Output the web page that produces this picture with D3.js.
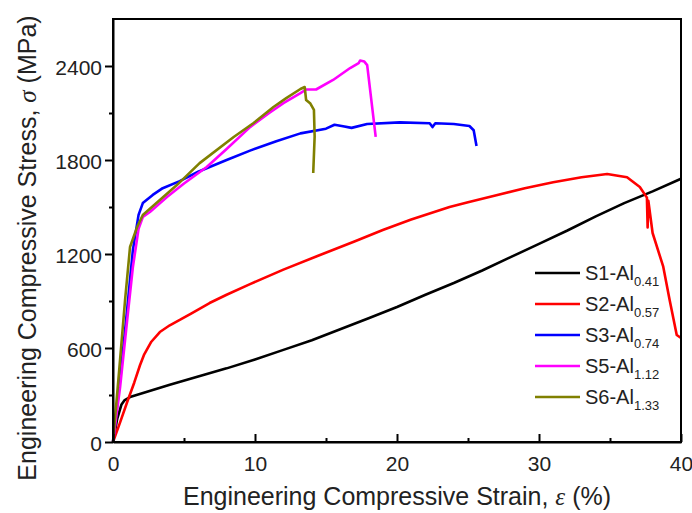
<!DOCTYPE html>
<html>
<head>
<meta charset="utf-8">
<script src="https://cdn.jsdelivr.net/npm/d3@7"></script>
<style>
  body { margin: 0; background: #fff; }
  svg text { font-family: "Liberation Sans", Arial, sans-serif; fill: #222; }
</style>
</head>
<body>
<div id="chart"></div>
<script>
// strain (%) , stress (MPa)
var s1 = [[0,0],[0.3,150],[0.6,240],[0.8,265],[1.2,287],[2,310],[4,365],[6,418],[8,470],[10,527],
          [12,588],[14,650],[16,720],[18,790],[20,862],[22,940],[24,1015],[26,1095],[28,1180],
          [30,1265],[32,1350],[34,1440],[36,1525],[38,1600],[40,1680]];
var s2 = [[0,0],[0.5,125],[1,255],[1.5,380],[1.9,490],[2.2,560],[2.7,640],[3.3,702],[4,745],[4.7,779],
          [5.5,820],[6.8,887],[8,940],[9.65,1008],[12,1100],[14.4,1187],[17,1280],[19,1353],[21,1420],
          [23.7,1500],[25,1530],[27,1575],[29,1620],[31,1658],[33,1690],[34.8,1711],[36.2,1690],
          [37.1,1628],[37.6,1560],[37.65,1370],[37.7,1540],[38,1334],[38.75,1119],[39.2,906],
          [39.7,683],[40,664]];
var s3 = [[0,0],[0.5,400],[1,850],[1.4,1225],[1.8,1450],[2.1,1525],[2.8,1577],[3.5,1620],[4.7,1665],
          [6,1725],[8,1800],[9.65,1860],[11.5,1920],[13.2,1970],[15,2000],[15.6,2025],[16.2,2015],
          [16.8,2005],[17.9,2030],[20.2,2040],[22.3,2035],[22.5,2010],[22.7,2035],[24,2030],
          [25.1,2017],[25.4,1990],[25.6,1890]];
var s5 = [[0,0],[0.5,350],[1,780],[1.4,1117],[1.8,1360],[2.1,1436],[2.6,1468],[3.8,1564],[5,1650],
          [6.6,1755],[8,1870],[9.65,2010],[11,2100],[12,2163],[13.2,2227],[13.6,2250],[14.3,2250],
          [15.5,2311],[16.7,2387],[17.3,2419],[17.4,2435],[17.7,2428],[17.9,2406],[18.5,1947]];
var s6 = [[0,0],[0.4,420],[0.85,906],[1.2,1245],[1.7,1372],[2.1,1449],[3.3,1545],[4.5,1640],
          [6.1,1780],[8.5,1947],[9.9,2036],[11.3,2138],[12.2,2195],[13.2,2253],[13.5,2266],
          [13.6,2183],[13.9,2160],[14.15,2120],[14.2,1950],[14.1,1717]];

var names = ["S1-Al", "S2-Al", "S3-Al", "S5-Al", "S6-Al"];
var subs = ["0.41", "0.57", "0.74", "1.12", "1.33"];
var colors = ["#000000", "#ff0000", "#0000ff", "#ff00ff", "#808000"];
var series = [s1, s2, s3, s5, s6];

var xTicks = [0, 10, 20, 30, 40];
var yTicks = [0, 600, 1200, 1800, 2400];

var W = 692, H = 513;
var margin = {left: 113, top: 19, right: 11, bottom: 71};

var svg = d3.select("#chart").append("svg")
    .attr("width", W).attr("height", H);

var xScale = d3.scaleLinear().domain([0, 40]).range([margin.left, W - margin.right]);
var yScale = d3.scaleLinear().domain([0, 2700]).range([H - margin.bottom, margin.top]);

// curves
var line = d3.line()
    .x(function(d) { return xScale(d[0]); })
    .y(function(d) { return yScale(d[1]); });

svg.append("g")
    .selectAll("path")
    .data(series)
    .enter()
    .append("path")
    .attr("d", line)
    .attr("fill", "none")
    .attr("stroke", function(d, i) { return colors[i]; })
    .attr("stroke-width", 2.6)
    .attr("stroke-linejoin", "round");

// frame
svg.append("rect")
    .attr("x", xScale(0)).attr("y", yScale(2700))
    .attr("width", xScale(40) - xScale(0))
    .attr("height", yScale(0) - yScale(2700))
    .attr("fill", "none").attr("stroke", "#000").attr("stroke-width", 2);

// x axis: ticks point inward
var xAxis = svg.append("g")
    .attr("transform", "translate(0," + yScale(0) + ")")
    .call(d3.axisBottom(xScale).tickValues(xTicks).tickFormat(d3.format("d"))
        .tickSizeInner(-8).tickSizeOuter(0).tickPadding(14));
xAxis.selectAll(".tick text").attr("font-size", 21).attr("fill", "#222");
xAxis.selectAll(".tick line").attr("stroke-width", 2);
xAxis.select(".domain").attr("stroke-width", 2);
svg.append("g")
    .attr("transform", "translate(0," + yScale(0) + ")")
    .call(d3.axisBottom(xScale).tickValues([5, 15, 25, 35]).tickSizeInner(-4).tickSizeOuter(0).tickFormat(""))
    .call(function(g) { g.select(".domain").remove(); g.selectAll("line").attr("stroke-width", 2); });

// y axis: ticks point outward
var yAxis = svg.append("g")
    .attr("transform", "translate(" + xScale(0) + ",0)")
    .call(d3.axisLeft(yScale).tickValues(yTicks).tickFormat(d3.format("d"))
        .tickSizeInner(8).tickSizeOuter(0).tickPadding(3));
yAxis.selectAll(".tick text").attr("font-size", 21).attr("fill", "#222").attr("dy", "0.4em");
yAxis.selectAll(".tick line").attr("stroke-width", 2);
yAxis.select(".domain").attr("stroke-width", 2);
svg.append("g")
    .attr("transform", "translate(" + xScale(0) + ",0)")
    .call(d3.axisLeft(yScale).tickValues([300, 900, 1500, 2100]).tickSizeInner(4).tickSizeOuter(0).tickFormat(""))
    .call(function(g) { g.select(".domain").remove(); g.selectAll("line").attr("stroke-width", 2); });

// axis titles
var xt = svg.append("text")
    .attr("x", 397)
    .attr("y", 505)
    .attr("text-anchor", "middle")
    .attr("font-size", 25);
xt.append("tspan").text("Engineering Compressive Strain, ");
xt.append("tspan").attr("font-family", "Liberation Serif").attr("font-style", "italic").text("\u03b5");
xt.append("tspan").text(" (%)");

var yt = svg.append("text")
    .attr("transform", "translate(36,248) rotate(-90)")
    .attr("text-anchor", "middle")
    .attr("font-size", 25);
yt.append("tspan").text("Engineering Compressive Stress, ");
yt.append("tspan").attr("font-family", "Liberation Serif").attr("font-style", "italic").text("\u03c3");
yt.append("tspan").text(" (MPa)");

// legend
var legend = svg.append("g").attr("transform", "translate(535,273)");
var items = legend.selectAll("g")
    .data(names)
    .enter()
    .append("g")
    .attr("transform", function(d, i) { return "translate(0," + i * 31 + ")"; });
items.append("line")
    .attr("x1", 0).attr("x2", 45)
    .attr("stroke", function(d, i) { return colors[i]; })
    .attr("stroke-width", 2.6);
var lt = items.append("text")
    .attr("x", 50).attr("y", 7)
    .attr("font-size", 20);
lt.append("tspan").text(function(d) { return d; });
lt.append("tspan")
    .attr("font-size", 13)
    .attr("dy", 6)
    .text(function(d, i) { return subs[i]; });
</script>
</body>
</html>
